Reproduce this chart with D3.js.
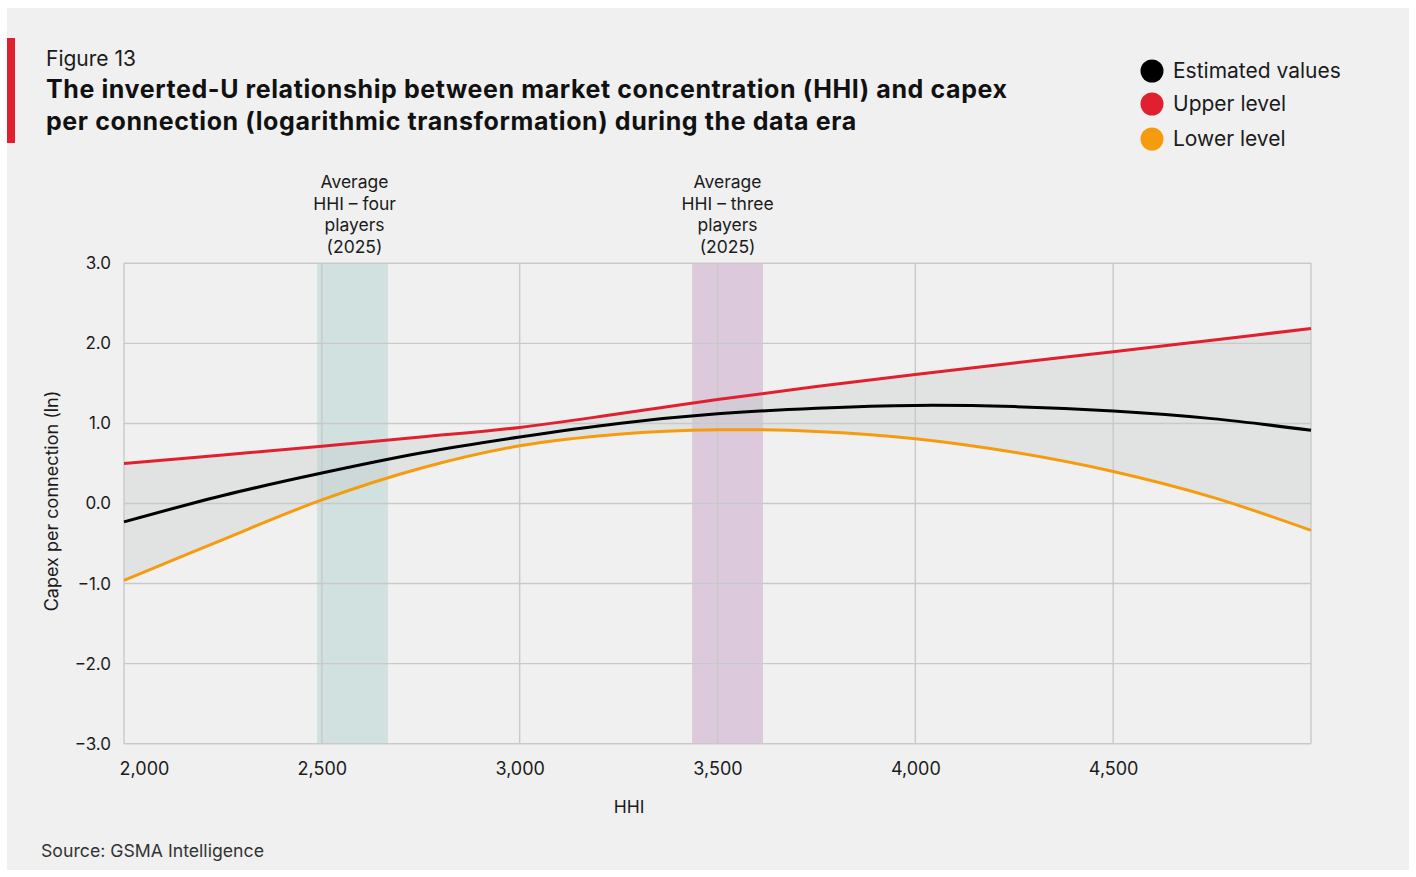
<!DOCTYPE html>
<html>
<head>
<meta charset="utf-8">
<script src="https://cdn.jsdelivr.net/npm/d3@7/dist/d3.min.js"></script>
<style>
  html, body { margin: 0; padding: 0; background: #ffffff; }
  svg { display: block; font-family: Inter, "Noto Sans", sans-serif; }
</style>
</head>
<body>
<svg id="chart" width="1416" height="877"></svg>
<script>
// HHI sample points (x) and the three fitted series (log capex per connection)
const hhi       = [2000, 2250, 2500, 2750, 3000, 3250, 3500, 3750, 4000, 4250, 4500, 4750, 5000];
const estimated = [-0.23, 0.10, 0.38, 0.63, 0.83, 1.00, 1.12, 1.19, 1.225, 1.21, 1.155, 1.06, 0.915];
const upper     = [0.50, 0.605, 0.715, 0.83, 0.95, 1.12, 1.30, 1.46, 1.61, 1.755, 1.895, 2.04, 2.185];
const lower     = [-0.96, -0.45, 0.045, 0.44, 0.72, 0.865, 0.92, 0.90, 0.81, 0.64, 0.40, 0.08, -0.335];

// Highlighted HHI ranges
const bandLabels = [["Average", "HHI \u2013 four", "players", "(2025)"],
                    ["Average", "HHI \u2013 three", "players", "(2025)"]];
const bandStart  = [2488, 3436];
const bandEnd    = [2667, 3615];
const bandColors = ["rgb(178,210,208)", "rgb(200,164,200)"];

const xTicks = [2000, 2500, 3000, 3500, 4000, 4500];
const xGrid  = [2000, 2500, 3000, 3500, 4000, 4500, 5000];
const yTicks = [-3, -2, -1, 0, 1, 2, 3];

const legendNames  = ["Estimated values", "Upper level", "Lower level"];
const legendColors = ["#000000", "#e1202f", "#f59b0e"];

const svg = d3.select("#chart");
const ink = "#1b1b1b";

// panel background
svg.append("rect").attr("x", 7).attr("y", 8).attr("width", 1402).attr("height", 862).attr("fill", "#f0f0f0");
svg.append("rect").attr("x", 7).attr("y", 38).attr("width", 8).attr("height", 105).attr("fill", "#e1202f");

// titles
svg.append("text").attr("x", 46).attr("y", 66).attr("font-size", 21).attr("fill", ink).text("Figure 13");
const titleLines = ["The inverted-U relationship between market concentration (HHI) and capex",
                    "per connection (logarithmic transformation) during the data era"];
svg.selectAll("text.title").data(titleLines).join("text")
  .attr("class", "title")
  .attr("x", 46).attr("y", (d, i) => 98 + i * 32)
  .attr("font-size", 25).attr("font-weight", 700).attr("letter-spacing", 0.6)
  .attr("fill", "#111").text(d => d);

// legend
const lg = svg.append("g");
legendNames.forEach((name, i) => {
  const yy = [71, 104, 139][i];
  lg.append("circle").attr("cx", 1152).attr("cy", yy).attr("r", 11.5).attr("fill", legendColors[i]);
  lg.append("text").attr("x", 1173).attr("y", yy + 7).attr("font-size", 21).attr("fill", ink).text(name);
});

// scales
const x = d3.scaleLinear().domain([2000, 5000]).range([124, 1311]);
const y = d3.scaleLinear().domain([-3, 3]).range([743.7, 263.3]);

// highlighted bands
bandStart.forEach((s, i) => {
  svg.append("rect")
    .attr("x", x(s)).attr("y", y(3))
    .attr("width", x(bandEnd[i]) - x(s)).attr("height", y(-3) - y(3))
    .attr("fill", bandColors[i]).attr("fill-opacity", 0.5);
  const cx = (x(s) + x(bandEnd[i])) / 2 + (i === 0 ? 2 : 0);
  svg.append("text").attr("text-anchor", "middle").attr("font-size", 17.5).attr("fill", ink)
    .selectAll("tspan").data(bandLabels[i]).join("tspan")
    .attr("x", cx).attr("y", (d, j) => 188 + j * 21.5).text(d => d);
});

// grid
const grid = svg.append("g").attr("stroke", "#c9c9c9").attr("stroke-width", 1.4);
xGrid.forEach(v => grid.append("line").attr("x1", x(v)).attr("x2", x(v)).attr("y1", y(3)).attr("y2", y(-3)));
yTicks.forEach(v => grid.append("line").attr("x1", x(2000)).attr("x2", x(5000)).attr("y1", y(v)).attr("y2", y(v)));

// axes (labels only)
const yAxis = svg.append("g").attr("transform", `translate(${x(2000)},0)`)
  .call(d3.axisLeft(y).tickValues(yTicks).tickFormat(d3.format(".1f")).tickSize(0).tickPadding(13));
const xAxis = svg.append("g").attr("transform", `translate(0,${y(-3)})`)
  .call(d3.axisBottom(x).tickValues(xTicks).tickFormat(d3.format(",")).tickSize(0).tickPadding(18.5));
[yAxis, xAxis].forEach(g => {
  g.select(".domain").remove();
  g.selectAll("text").attr("fill", ink).attr("font-family", "Inter, sans-serif");
});
yAxis.selectAll("text").attr("font-size", 17);
xAxis.selectAll("text").attr("font-size", 18);
xAxis.selectAll(".tick").filter(d => d === 2000).select("text").attr("dx", 20);

svg.append("text").attr("x", 629).attr("y", 813).attr("text-anchor", "middle")
  .attr("font-size", 17.5).attr("fill", ink).text("HHI");
svg.append("text").attr("transform", "translate(58,501) rotate(-90)").attr("text-anchor", "middle")
  .attr("font-size", 18).attr("fill", ink).text("Capex per connection (ln)");

// confidence band between lower and upper levels
const rows = hhi.map((h, i) => ({h, est: estimated[i], up: upper[i], lo: lower[i]}));
svg.append("path").datum(rows)
  .attr("d", d3.area().x(d => x(d.h)).y0(d => y(d.lo)).y1(d => y(d.up)).curve(d3.curveCatmullRom))
  .attr("fill", "rgb(196,206,202)").attr("fill-opacity", 0.38);

const line = key => d3.line().x(d => x(d.h)).y(d => y(d[key])).curve(d3.curveCatmullRom);
[["lo", legendColors[2]], ["up", legendColors[1]], ["est", legendColors[0]]].forEach(([k, c]) => {
  svg.append("path").datum(rows).attr("d", line(k))
    .attr("fill", "none").attr("stroke", c).attr("stroke-width", 3);
});

// source
svg.append("text").attr("x", 41).attr("y", 857).attr("font-size", 17.7).attr("fill", "#333").text("Source: GSMA Intelligence");
</script>
</body>
</html>
